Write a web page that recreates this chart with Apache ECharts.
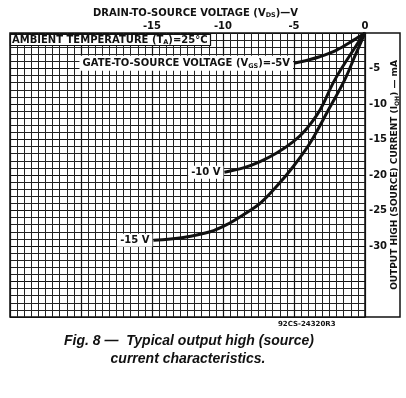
<!DOCTYPE html>
<html>
<head>
<meta charset="utf-8">
<script src="https://cdn.jsdelivr.net/npm/echarts@6/dist/echarts.min.js"></script>
<style>
  html, body { margin: 0; padding: 0; background: #fff; }
  #chart { width: 406px; height: 398px; }
</style>
</head>
<body>
<div id="chart"></div>
<script>
// drain-to-source voltage (V) vs output high current (mA), one pair per gate voltage
const vdsGate5 = [0, -0.8, -2.0, -3.2, -4.0, -5.0]
const iohGate5 = [0, -1.0, -2.4, -3.35, -3.8, -4.25]

const vdsGate10 = [0, -0.66, -2.13, -3.17, -4.2, -5.05, -6.22, -7.39, -8.57, -9.9]
const iohGate10 = [0, -1.9, -6.6, -10.85, -13.7, -15.3, -16.9, -18.1, -19.0, -19.6]

const vdsGate15 = [0, -0.7, -1.43, -2.58, -3.87, -5.05, -6.22, -7.39, -8.57, -9.74, -10.9, -12.8, -14.9]
const iohGate15 = [0, -3.2, -6.6, -10.85, -15.5, -18.8, -21.6, -24.0, -25.6, -27.0, -28.0, -28.8, -29.2]

const xTickLabels = [-15, -10, -5, 0]
const yTickLabels = [-5, -10, -15, -20, -25, -30]

const FONT = 'DejaVu Sans'
const ink = '#111'

const chart = echarts.init(document.getElementById('chart'), null, { renderer: 'canvas' })

const small = {
    t: { fontFamily: FONT, fontWeight: 'bold', fontSize: 10, color: ink },
    s: { fontFamily: FONT, fontWeight: 'bold', fontSize: 6.5, color: ink, padding: [5, 0, 0, 0] }
}
const sideName = {
    t: { fontFamily: FONT, fontWeight: 'bold', fontSize: 9, color: ink },
    s: { fontFamily: FONT, fontWeight: 'bold', fontSize: 6, color: ink, padding: [4, 0, 0, 0] }
}

function pairs(xs, ys) {
    return xs.map((x, i) => [x, ys[i]])
}

function curve(xs, ys, text) {
    return {
        type: 'line',
        data: pairs(xs, ys),
        smooth: 0.35,
        symbol: 'none',
        lineStyle: { color: ink, width: 3 },
        markPoint: {
            symbol: 'circle',
            symbolSize: 0,
            data: [{ coord: [xs[xs.length - 1], ys[ys.length - 1]] }],
            label: {
                show: true,
                position: 'left',
                distance: 1,
                formatter: text,
                backgroundColor: '#fff',
                padding: [2, 3, 1, 3],
                rich: small
            }
        }
    }
}

var option = {
    animation: false,
    title: {
        text: '{t|AMBIENT TEMPERATURE (T}{s|A}{t|)=25°C}',
        left: 10, top: 33,
        padding: [1, 3, 0, 2],
        backgroundColor: '#fff',
        borderColor: ink, borderWidth: 1.2,
        textStyle: { rich: small }
    },
    grid: {
        left: 10, top: 33, width: 355, height: 284,
        outerBoundsMode: 'none',
        containLabel: false,
        show: true, borderColor: ink, borderWidth: 1.5
    },
    xAxis: {
        type: 'value',
        position: 'top',
        min: -25, max: 0, interval: 5,
        name: '{t|DRAIN-TO-SOURCE VOLTAGE (V}{s|DS}{t|)—V}',
        nameLocation: 'middle',
        nameMoveOverlap: false,
        nameGap: 14,
        nameTextStyle: { rich: small, padding: [0, 0, 0, 16], overflow: 'none' },
        axisLine: { show: false },
        axisTick: { show: false },
        axisLabel: {
            margin: 2,
            fontFamily: FONT, fontWeight: 'bold', fontSize: 10, color: ink,
            formatter: v => xTickLabels.includes(v) ? String(v) : ''
        },
        splitLine: { show: true, lineStyle: { color: ink, width: 1.2 } },
        minorTick: { show: false, splitNumber: 10 },
        minorSplitLine: { show: true, lineStyle: { color: '#222', width: 1 } }
    },
    yAxis: {
        type: 'value',
        position: 'right',
        min: -40, max: 0, interval: 5,
        name: '{t|OUTPUT HIGH (SOURCE) CURRENT (I}{s|OH}{t|) — mA}',
        nameLocation: 'middle',
        nameMoveOverlap: false,
        nameRotate: 90,
        nameGap: 25,
        nameTextStyle: { rich: sideName, overflow: 'none' },
        axisLine: { show: false },
        axisTick: { show: false },
        axisLabel: {
            margin: 4,
            fontFamily: FONT, fontWeight: 'bold', fontSize: 10, color: ink,
            formatter: v => yTickLabels.includes(v) ? String(v) : ''
        },
        splitLine: { show: true, lineStyle: { color: ink, width: 1.2 } },
        minorTick: { show: false, splitNumber: 5 },
        minorSplitLine: { show: true, lineStyle: { color: '#222', width: 1 } }
    },
    series: [
        curve(vdsGate5, iohGate5, '{t|GATE-TO-SOURCE VOLTAGE (V}{s|GS}{t|)=-5V}'),
        curve(vdsGate10, iohGate10, '{t|-10 V}'),
        curve(vdsGate15, iohGate15, '{t|-15 V}')
    ],
    graphic: [
        {
            type: 'polyline',
            shape: { points: [[365, 33], [400, 33], [400, 317], [365, 317]] },
            style: { stroke: ink, lineWidth: 1.5, fill: null }
        },
        {
            type: 'text',
            x: 278, y: 321,
            style: { text: '92CS-24320R3', font: 'bold 7px "DejaVu Sans"', fill: ink }
        },
        {
            type: 'text',
            x: 189, y: 334,
            style: {
                text: 'Fig. 8 —  Typical output high (source)',
                font: 'italic bold 14px "Liberation Sans"', fill: ink, align: 'center'
            }
        },
        {
            type: 'text',
            x: 188, y: 352,
            style: {
                text: 'current characteristics.',
                font: 'italic bold 14px "Liberation Sans"', fill: ink, align: 'center'
            }
        }
    ]
};
chart.setOption(option);
</script>
</body>
</html>
